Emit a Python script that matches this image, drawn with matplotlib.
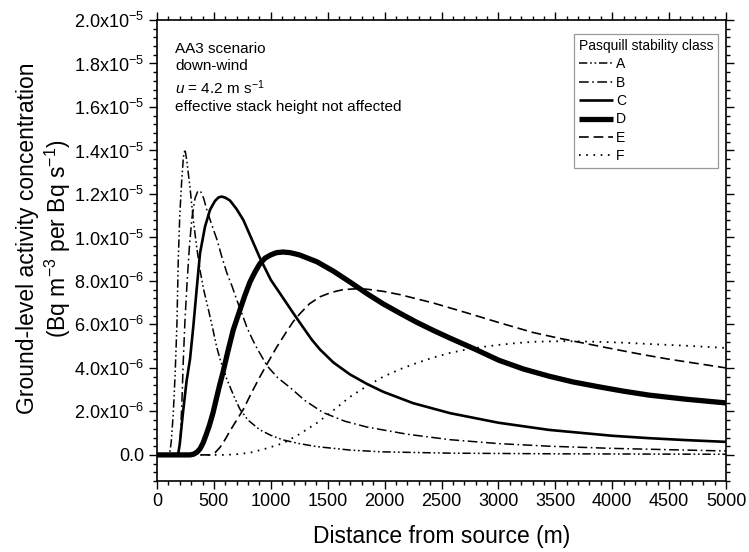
import matplotlib
matplotlib.use("Agg")
import matplotlib.pyplot as plt
from matplotlib.ticker import MultipleLocator, FixedLocator, FixedFormatter

plt.rcParams['font.family'] = ['Liberation Sans', 'DejaVu Sans']
plt.rcParams['mathtext.fontset'] = 'custom'
plt.rcParams['mathtext.rm'] = 'Liberation Sans'
plt.rcParams['mathtext.it'] = 'Liberation Sans:italic'
plt.rcParams['mathtext.default'] = 'regular'
plt.rcParams['lines.scale_dashes'] = False

# ---- data (concentration in units of 1e-6 Bq m^-3 per Bq s^-1) ----
A_x = [0, 110, 125, 143, 160, 175, 187, 200, 217, 232, 246, 260, 290, 319, 350, 378, 410, 451,
       490, 525, 560, 612, 680, 729, 800, 905, 1000, 1107, 1250, 1406, 1700, 1986, 2575, 3500, 5000]
A_y = [0, 0, 0.6, 1.9, 3.8, 6.0, 9.0, 11.0, 12.6, 13.7, 14.05, 13.6, 12.3, 10.8, 9.5, 8.5, 7.6, 6.7,
       5.8, 4.95, 4.3, 3.5, 2.65, 2.1, 1.6, 1.15, 0.9, 0.69, 0.52, 0.38, 0.22, 0.14, 0.08, 0.05, 0.03]

B_x = [0, 170, 190, 205, 218, 230, 245, 264, 285, 307, 334, 360, 385, 410, 439, 480, 527, 570,
       615, 660, 703, 750, 791, 840, 879, 967, 1060, 1169, 1300, 1459, 1650, 1845, 2200, 2575,
       3000, 3445, 4000, 4500, 5000]
B_y = [0, 0, 0.15, 0.8, 2.3, 4.2, 6.1, 7.9, 9.6, 10.9, 11.8, 12.15, 12.1, 11.8, 11.25, 10.6, 9.9, 9.1,
       8.35, 7.75, 7.1, 6.45, 5.85, 5.3, 4.9, 4.1, 3.55, 3.1, 2.5, 1.95, 1.55, 1.28, 0.95, 0.7,
       0.52, 0.4, 0.3, 0.24, 0.18]

C_x = [0, 185, 200, 228, 260, 290, 319, 350, 378, 422, 466, 490, 510, 540, 568, 600, 641, 700,
       759, 830, 905, 1000, 1110, 1200, 1286, 1360, 1432, 1550, 1696, 1850, 1989, 2250, 2575,
       3000, 3445, 4000, 4323, 4650, 5000]
C_y = [0, 0, 0.5, 1.93, 3.4, 4.4, 5.9, 7.7, 9.27, 10.5, 11.27, 11.5, 11.68, 11.84, 11.88, 11.83, 11.7, 11.3,
       10.8, 9.95, 9.05, 8.05, 7.2, 6.5, 5.85, 5.3, 4.85, 4.25, 3.7, 3.25, 2.9, 2.38, 1.92,
       1.48, 1.15, 0.88, 0.77, 0.68, 0.6]

D_x = [0, 290, 320, 350, 378, 405, 430, 460, 492, 520, 550, 580, 620, 670, 729, 770, 817, 860,
       905, 950, 1000, 1050, 1107, 1170, 1250, 1406, 1550, 1696, 1850, 1986, 2140, 2282, 2430,
       2575, 2800, 3005, 3220, 3445, 3660, 3884, 4100, 4323, 4650, 5000]
D_y = [0, 0, 0.03, 0.12, 0.28, 0.55, 0.9, 1.35, 1.93, 2.55, 3.2, 3.8, 4.7, 5.75, 6.67, 7.3, 7.95, 8.4,
       8.8, 9.05, 9.2, 9.3, 9.33, 9.3, 9.2, 8.88, 8.45, 7.95, 7.4, 6.95, 6.5, 6.1, 5.72,
       5.37, 4.85, 4.35, 3.95, 3.62, 3.35, 3.13, 2.93, 2.75, 2.56, 2.39]

E_x = [0, 466, 510, 554, 600, 641, 700, 759, 830, 905, 980, 1051, 1142, 1200, 1257, 1340, 1432,
       1530, 1634, 1750, 1845, 1990, 2135, 2425, 2724, 3014, 3304, 3520, 3740, 4000, 4250, 4500,
       4750, 5000]
E_y = [0, 0, 0.1, 0.35, 0.72, 1.1, 1.6, 2.1, 2.85, 3.6, 4.3, 4.95, 5.7, 6.15, 6.5, 6.95, 7.27,
       7.47, 7.6, 7.64, 7.62, 7.52, 7.37, 6.99, 6.53, 6.07, 5.63, 5.38, 5.15, 4.88, 4.63, 4.4,
       4.2, 4.0]

F_x = [0, 600, 700, 817, 950, 1110, 1250, 1403, 1550, 1696, 1840, 1986, 2140, 2285, 2430, 2575,
       2720, 2865, 3005, 3150, 3304, 3450, 3600, 3884, 4100, 4323, 4650, 5000]
F_y = [0, 0, 0.03, 0.1, 0.28, 0.54, 0.95, 1.46, 2.05, 2.67, 3.15, 3.59, 3.95, 4.23, 4.48, 4.69,
       4.85, 4.97, 5.06, 5.14, 5.2, 5.22, 5.23, 5.2, 5.16, 5.1, 5.02, 4.92]

class_labels = ['A', 'B', 'C', 'D', 'E', 'F']
x_ticks = [0, 500, 1000, 1500, 2000, 2500, 3000, 3500, 4000, 4500, 5000]
y_ticks = [0, 2, 4, 6, 8, 10, 12, 14, 16, 18, 20]
y_tick_labels = ['0.0', r'$2.0x10^{-6}$', r'$4.0x10^{-6}$', r'$6.0x10^{-6}$', r'$8.0x10^{-6}$',
                 r'$1.0x10^{-5}$', r'$1.2x10^{-5}$', r'$1.4x10^{-5}$', r'$1.6x10^{-5}$',
                 r'$1.8x10^{-5}$', r'$2.0x10^{-5}$']

# ---- figure ----
fig = plt.figure(figsize=(7.49, 5.52), dpi=100)
ax = fig.add_axes([157/749, 1-481/552, 569/749, 461/552])

styles = [
    dict(color='black', lw=1.1, dashes=[6, 2, 1.2, 2, 1.2, 2]),
    dict(color='black', lw=1.1, dashes=[7, 2.5, 1.2, 2.5]),
    dict(color='black', lw=1.9, linestyle='-'),
    dict(color='black', lw=3.8, linestyle='-'),
    dict(color='black', lw=1.2, dashes=[7, 3.5]),
    dict(color='black', lw=1.3, dashes=[1.2, 4]),
]
xs = [A_x, B_x, C_x, D_x, E_x, F_x]
ys = [A_y, B_y, C_y, D_y, E_y, F_y]
handles = []
for xv, yv, st, lab in zip(xs, ys, styles, class_labels):
    ln, = ax.plot(xv, yv, label=lab, solid_capstyle='butt', solid_joinstyle='round', **st)
    handles.append(ln)

ax.set_xlim(0, 5000)
ax.set_ylim(-1.2, 20)
ax.xaxis.set_major_locator(FixedLocator(x_ticks))
ax.xaxis.set_minor_locator(MultipleLocator(100))
ax.yaxis.set_major_locator(FixedLocator(y_ticks))
ax.yaxis.set_major_formatter(FixedFormatter(y_tick_labels))
ax.yaxis.set_minor_locator(MultipleLocator(0.4))
ax.tick_params(which='both', direction='out', top=True, right=True, width=1.0)
ax.tick_params(which='major', length=5.5, labelsize=13)
ax.tick_params(which='minor', length=3)
for s in ax.spines.values():
    s.set_linewidth(1.2)

ax.set_xlabel('Distance from source (m)', fontsize=16.5)
ax.xaxis.set_label_coords(0.5, -0.096)
ax.set_ylabel('Ground-level activity concentration\n(Bq m$^{-3}$ per Bq s$^{-1}$)', fontsize=16.5,
              linespacing=1.15)
ax.yaxis.set_label_coords(-0.148, 0.527)

ax.text(0.032, 0.952, 'AA3 scenario\ndown-wind\n$\\it{u}$ = 4.2 m s$^{-1}$\neffective stack height not affected',
        transform=ax.transAxes, fontsize=11, va='top', ha='left', linespacing=1.3)

leg = ax.legend(handles=handles, title='Pasquill stability class', loc='upper right',
                bbox_to_anchor=(0.986, 0.97), borderaxespad=0, fontsize=10, title_fontsize=10,
                alignment='left', fancybox=False, edgecolor='#999999', handlelength=2.5,
                handletextpad=0.2, labelspacing=0.32, borderpad=0.35, framealpha=1)
leg.get_frame().set_linewidth(0.9)

fig.savefig('out.png', dpi=100)
